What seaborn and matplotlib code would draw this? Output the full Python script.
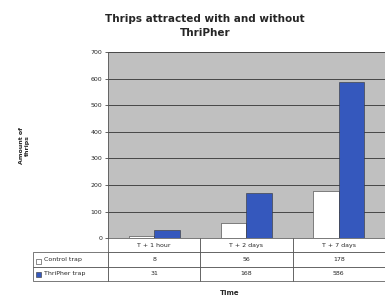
import matplotlib
matplotlib.use('Agg')
import matplotlib.pyplot as plt
import matplotlib.patches as mpatches
import seaborn as sns
import pandas as pd

# data
times = ['T + 1 hour', 'T + 2 days', 'T + 7 days']
control = [8, 56, 178]
thripher = [31, 168, 586]
series = ['Control trap', 'ThriPher trap']
colors = ['#ffffff', '#3558bd']

df = pd.DataFrame({
    'Time': times * 2,
    'Amount': control + thripher,
    'Trap': [series[0]] * 3 + [series[1]] * 3,
})

sns.set_theme(style='white')
plt.rcParams['font.family'] = ['DejaVu Sans']

fig = plt.figure(figsize=(3.85, 3.01), dpi=100)
ax = fig.add_axes([0.2805, 0.209, 0.7195, 0.618])

sns.barplot(data=df, x='Time', y='Amount', hue='Trap', hue_order=series,
            palette=colors, saturation=1, width=0.55, gap=0,
            edgecolor='#333333', linewidth=0.4, ax=ax, legend=False)
ax.set_facecolor('#c0c0c0')
ax.set_ylim(0, 700)
ax.set_yticks(range(0, 701, 100))
ax.yaxis.grid(True, color='#333333', linewidth=0.6)
ax.set_axisbelow(True)
ax.tick_params(axis='y', labelsize=4.5, length=2, width=0.5, pad=2, left=True)
ax.set_xticks([])
ax.set_xlabel('')
ax.set_ylabel('Amount of\nthrips', fontsize=4.5, fontweight='bold', labelpad=44)
for s in ['top', 'right', 'bottom']:
    ax.spines[s].set_visible(False)
ax.spines['left'].set_color('#555555')
ax.spines['left'].set_linewidth(0.6)
fig.text(205 / 385, 1 - 26 / 301, 'Thrips attracted with and without\nThriPher',
         ha='center', va='center', fontsize=7.5, fontweight='bold',
         linespacing=1.4)

# data table under the plot
cell_text = [[''] + times,
             ['     ' + series[0]] + [str(v) for v in control],
             ['     ' + series[1]] + [str(v) for v in thripher]]
lab_w = 75 / 277
tbl = ax.table(cellText=cell_text, cellLoc='center',
               bbox=[-lab_w, -43 / 186, 1 + lab_w, 43 / 186],
               colWidths=[lab_w, 1 / 3, 1 / 3, 1 / 3])
tbl.auto_set_font_size(False)
tbl.set_fontsize(4.5)
for (r, c), cell in tbl.get_celld().items():
    cell.set_linewidth(0.5)
    cell.set_edgecolor('#444444')
    if c == 0:
        cell.get_text().set_ha('left')
        cell.PAD = 0.02
tbl[0, 0].set_edgecolor('white')
tbl[0, 0].visible_edges = ''

# legend keys inside table
for i, col in enumerate(colors):
    y = -(17 + 6.5 + 13 * i) / 186
    ax.add_patch(mpatches.Rectangle((-lab_w + 0.012, y - 0.012), 0.018, 0.024,
                                    transform=ax.transAxes, clip_on=False,
                                    facecolor=col, edgecolor='#333333',
                                    linewidth=0.4))

fig.text(0.597, 0.02, 'Time', ha='center', fontsize=5, fontweight='bold')

fig.savefig('out.png', dpi=100)
